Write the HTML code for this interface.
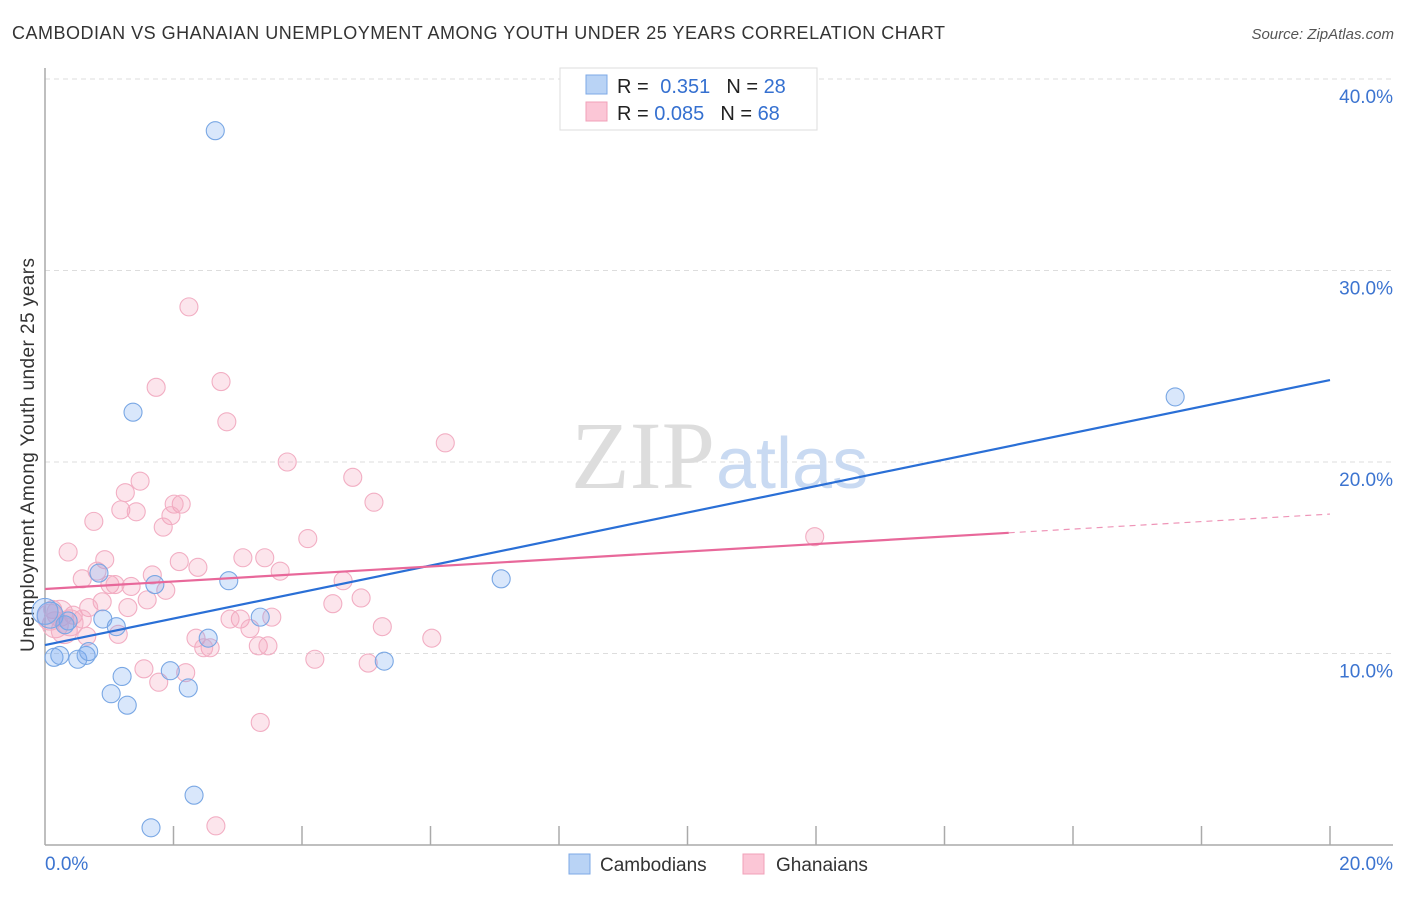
<!DOCTYPE html>
<html><head><meta charset="utf-8"><style>
body{margin:0;background:#fff;font-family:"Liberation Sans",sans-serif}
</style></head><body>
<svg width="1406" height="892" xmlns="http://www.w3.org/2000/svg" style="font-family:'Liberation Sans',sans-serif">
<text x="12" y="39" font-size="18" fill="#333" textLength="933">CAMBODIAN VS GHANAIAN UNEMPLOYMENT AMONG YOUTH UNDER 25 YEARS CORRELATION CHART</text>
<text x="1394" y="39" font-size="15" fill="#555" font-style="italic" text-anchor="end">Source: ZipAtlas.com</text>
<g id="grid"></g>
<text x="715" y="488" font-size="96" fill="#ddd" text-anchor="end" font-family="Liberation Serif">ZIP</text>
<text x="716" y="488" font-size="72" fill="#c9daf2">atlas</text>
<g id="axes"></g>
<text transform="translate(34,455) rotate(-90)" font-size="19" fill="#333" text-anchor="middle" textLength="394">Unemployment Among Youth under 25 years</text>
<g id="pts"></g>
<g id="lines"></g>
<g>
<rect x="560" y="68" width="257" height="62" fill="#fff" stroke="#ddd"/>
<rect x="586" y="75" width="21" height="19" fill="#b9d3f5" stroke="#7da8e6"/>
<rect x="586" y="102" width="21" height="19" fill="#fbc6d6" stroke="#f0a0b8"/>
<text x="617" y="93" font-size="20" fill="#222">R = <tspan fill="#3570d0" dx="6">0.351</tspan><tspan dx="16" fill="#222">N = </tspan><tspan fill="#3570d0">28</tspan></text>
<text x="617" y="120" font-size="20" fill="#222">R = <tspan fill="#3570d0">0.085</tspan><tspan dx="16" fill="#222">N = </tspan><tspan fill="#3570d0">68</tspan></text>
</g>
<g>
<rect x="569" y="854" width="21" height="20" fill="#b9d3f5" stroke="#7da8e6"/>
<text x="600" y="871" font-size="19" fill="#333">Cambodians</text>
<rect x="743" y="854" width="21" height="20" fill="#fbc6d6" stroke="#f0a0b8"/>
<text x="776" y="871" font-size="19" fill="#333">Ghanaians</text>
</g>
</svg>
<script>
const yTicks=[10,20,30,40];
const yTickLabels=["10.0%","20.0%","30.0%","40.0%"];
const xTickLabels=["0.0%","20.0%"];
const camX=[2.65,1.37,17.59,7.10,2.86,1.71,0.84,0.90,0.36,1.11,3.35,2.54,0.14,0.23,0.51,0.64,0.68,5.28,1.95,1.20,1.03,2.23,1.28,2.32,1.65,0.08,0.0,0.31];
const camY=[37.3,22.6,23.4,13.9,13.8,13.6,14.2,11.8,11.7,11.4,11.9,10.8,9.8,9.9,9.7,9.9,10.1,9.6,9.1,8.8,7.9,8.2,7.3,2.6,0.9,12.0,12.2,11.5];
const ghX=[2.24,2.74,1.73,2.83,6.23,3.77,4.79,1.48,1.25,5.12,2.12,2.01,1.18,1.42,1.96,0.76,1.84,4.09,0.36,3.08,3.42,0.93,2.09,2.38,0.81,3.66,1.67,0.58,1.01,1.34,1.09,1.88,4.64,4.92,1.59,0.89,1.29,4.48,0.68,0.44,3.04,2.88,3.53,0.12,0.58,3.19,5.25,1.14,0.65,2.35,6.02,2.57,2.47,3.32,3.47,4.20,5.03,1.54,2.19,1.77,3.35,2.66,11.98,0.23,0.16,0.30,0.39,0.08];
const ghY=[28.1,24.2,23.9,22.1,21.0,20.0,19.2,19.0,18.4,17.9,17.8,17.8,17.5,17.4,17.2,16.9,16.6,16.0,15.3,15.0,15.0,14.9,14.8,14.5,14.3,14.3,14.1,13.9,13.6,13.5,13.6,13.3,13.8,12.9,12.8,12.7,12.4,12.6,12.4,12.0,11.8,11.8,11.9,12.3,11.8,11.3,11.4,11.0,10.9,10.8,10.8,10.3,10.3,10.4,10.4,9.7,9.5,9.2,9.0,8.5,6.4,1.0,16.1,12.1,11.5,11.2,11.6,11.9];
const camBig=[25,26];
const ghBig=[63,64,65,66,67];
const camLine=[10.44,24.28];
const ghLine=[13.37,17.28];
const NS="http://www.w3.org/2000/svg";
const X=v=>45+v*64.25, Y=v=>845-v*19.15;
function mk(t,a,p){const e=document.createElementNS(NS,t);for(const k in a)e.setAttribute(k,a[k]);p.appendChild(e);return e;}
const grid=document.getElementById('grid'),axes=document.getElementById('axes'),pts=document.getElementById('pts'),lines=document.getElementById('lines');
yTicks.forEach((t,i)=>{
 const l=mk('line',{x1:45,x2:1393,y1:Y(t),y2:Y(t),stroke:'#ddd','stroke-dasharray':'5,4'},grid);
 
 
 const tx=mk('text',{x:1393,y:Y(t)+24,'font-size':19,fill:'#3c74d0','text-anchor':'end'},axes);
 tx.textContent=yTickLabels[i];
 
 
});
mk('line',{x1:45,x2:45,y1:68,y2:845,stroke:'#aaa','stroke-width':1.5},axes);
mk('line',{x1:45,x2:1393,y1:845,y2:845,stroke:'#aaa','stroke-width':1.5},axes);
for(let i=1;i<=10;i++){const t=mk('line',{x1:X(i*2),x2:X(i*2),y1:826,y2:845,stroke:'#aaa','stroke-width':1.5},axes);}
const xl0=mk('text',{x:45,y:870,'font-size':19,fill:'#3c74d0'},axes);xl0.textContent=xTickLabels[0];


const xl1=mk('text',{x:1393,y:870,'font-size':19,fill:'#3c74d0','text-anchor':'end'},axes);xl1.textContent=xTickLabels[1];


ghX.forEach((x,i)=>{const c=mk('circle',{cx:X(x),cy:Y(ghY[i]),r:ghBig.includes(i)?13:9,fill:'rgba(244,160,188,0.28)',stroke:'#f2aec3','stroke-width':1.1},pts);
 
 });
camX.forEach((x,i)=>{const c=mk('circle',{cx:X(x),cy:Y(camY[i]),r:camBig.includes(i)?13:9,fill:'rgba(120,170,240,0.28)',stroke:'#79a7e4','stroke-width':1.1},pts);
 
 });
const bl=mk('line',{x1:X(0),y1:Y(camLine[0]),x2:X(20),y2:Y(camLine[1]),stroke:'#2a6fd6','stroke-width':2.2},lines);


const gAt=v=>ghLine[0]+(ghLine[1]-ghLine[0])*v/20;
const pl=mk('line',{x1:X(0),y1:Y(gAt(0)),x2:X(15),y2:Y(gAt(15)),stroke:'#e8689a','stroke-width':2.2},lines);


const pd=mk('line',{x1:X(15),y1:Y(gAt(15)),x2:X(20),y2:Y(gAt(20)),stroke:'#e8689a','stroke-width':1.2,'stroke-dasharray':'6,5',opacity:0.7},lines);


</script>
</body></html>
